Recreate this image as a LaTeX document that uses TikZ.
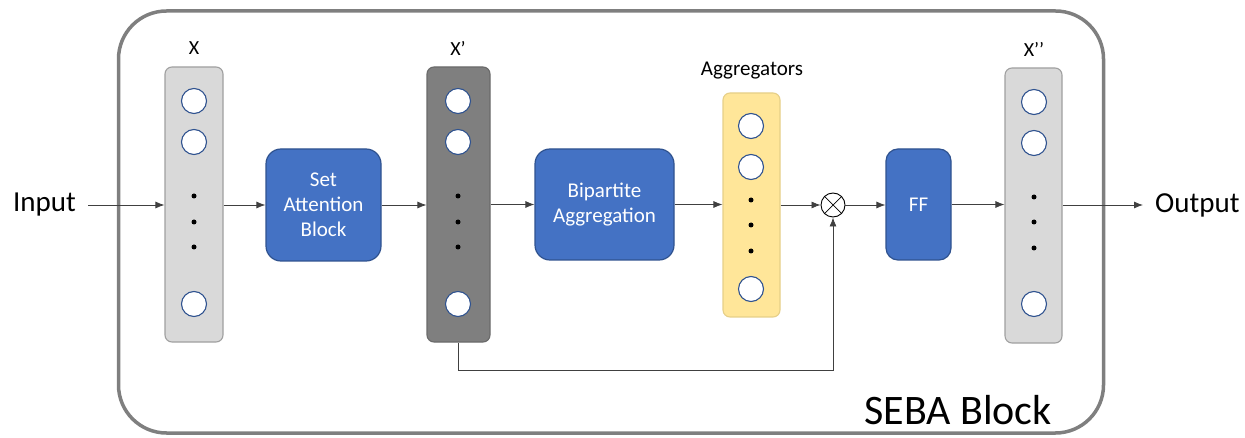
\documentclass[tikz,border=0pt]{standalone}
\usepackage{fontspec}
\setmainfont{Carlito}
\usetikzlibrary{arrows.meta,positioning,calc}

\definecolor{boxblue}{HTML}{4472C4}
\definecolor{boxedge}{HTML}{2F528F}
\definecolor{lightcol}{HTML}{D9D9D9}
\definecolor{lightedge}{HTML}{A0A0A0}
\definecolor{darkcol}{HTML}{7F7F7F}
\definecolor{darkedge}{HTML}{6A6A6A}
\definecolor{aggcol}{HTML}{FFE699}
\definecolor{aggedge}{HTML}{E6CF88}
\definecolor{frame}{HTML}{7F7F7F}
\definecolor{wire}{HTML}{404040}

\tikzset{
  opbox/.style={draw=boxedge, line width=1.2pt, fill=boxblue, rounded corners=15pt,
    text=white, font=\fontsize{21}{25}\selectfont, align=center, inner sep=0pt},
  vecbox/.style={rounded corners=7pt, line width=1.1pt, inner sep=0pt},
  unit/.style={circle, draw=boxedge, fill=white, line width=1.1pt,
    minimum width=24pt, minimum height=25pt, inner sep=0pt},
  dotmark/.style={circle, fill=black, minimum size=5pt, inner sep=0pt},
  arr/.style={draw=wire, line width=0.8pt, -{Latex[length=9pt,width=7pt]}},
  lbl/.style={font=\fontsize{20}{23}\selectfont, inner sep=0pt},
}

\begin{document}
\begin{tikzpicture}[x=1pt,y=-1pt]
\useasboundingbox (0,0) rectangle (1245,438);

% enclosing block
\node[draw=frame, line width=3.5pt, rounded corners=48pt, minimum width=985pt,
  minimum height=422pt, inner sep=0pt] (seba) at (611,222) {};
\node[font=\fontsize{42}{48}\selectfont, anchor=east, inner sep=0pt] (sebalbl) at (1052,410) {SEBA Block};

% input / output labels
\node[font=\fontsize{29}{34}\selectfont, anchor=east, inner sep=0pt] (in) at (76,205) {Input};
\node[font=\fontsize{29}{34}\selectfont, anchor=west, inner sep=0pt] (out) at (1155,205) {Output};

% X column
\node[vecbox, draw=lightedge, fill=lightcol, minimum width=58pt, minimum height=275pt] (X) at (194,204.5) {};
\node[lbl] (Xl) at (194,48) {X};
\node[unit] (x1) at (194,101) {};
\node[unit] (x2) at (194,142) {};
\node[unit] (x3) at (194,304) {};
\node[dotmark] (xd1) at (194,196) {};
\node[dotmark] (xd2) at (194,222) {};
\node[dotmark] (xd3) at (194,247) {};

% Set attention block
\node[opbox, minimum width=115pt, minimum height=112pt] (sab) at (323.5,205) {Set\\Attention\\Block};

% X' column
\node[vecbox, draw=darkedge, fill=darkcol, minimum width=63pt, minimum height=275pt] (Xp) at (458.5,204.5) {};
\node[lbl] (Xpl) at (458,48) {X’};
\node[unit] (p1) at (458,101) {};
\node[unit] (p2) at (458,142) {};
\node[unit] (p3) at (458,304) {};
\node[dotmark] (pd1) at (458,196) {};
\node[dotmark] (pd2) at (458,222) {};
\node[dotmark] (pd3) at (458,247) {};

% Bipartite aggregation
\node[opbox, minimum width=139pt, minimum height=111pt] (bpa) at (604.5,204.5) {Bipartite\\Aggregation};

% Aggregators column
\node[vecbox, draw=aggedge, fill=aggcol, minimum width=57pt, minimum height=224pt] (A) at (751.5,205) {};
\node[lbl, font=\fontsize{21}{24}\selectfont] (Al) at (752,71) {Aggregators};
\node[unit] (a1) at (751,126) {};
\node[unit] (a2) at (751,167) {};
\node[unit] (a3) at (751,289) {};
\node[dotmark] (ad1) at (751,200) {};
\node[dotmark] (ad2) at (751,225) {};
\node[dotmark] (ad3) at (751,251) {};

% product
\node[circle, draw=black, fill=white, line width=0.9pt, minimum size=24pt, inner sep=0pt] (mul) at (833,205) {};
\draw[line width=0.7pt] (mul.north west) -- (mul.south east) (mul.north east) -- (mul.south west);

% feed-forward
\node[opbox, rounded corners=12pt, minimum width=65pt, minimum height=111pt] (ff) at (918.5,204.5) {FF};

% X'' column
\node[vecbox, draw=lightedge, fill=lightcol, minimum width=57pt, minimum height=275pt] (Xpp) at (1033.5,205.5) {};
\node[lbl] (Xppl) at (1034,49) {X’’};
\node[unit] (q1) at (1034,102) {};
\node[unit] (q2) at (1034,143) {};
\node[unit] (q3) at (1034,304) {};
\node[dotmark] (qd1) at (1034,197) {};
\node[dotmark] (qd2) at (1034,222) {};
\node[dotmark] (qd3) at (1034,248) {};

% connectors
\draw[arr] ([xshift=12pt]in.east) -- (X.west|-in.east);
\draw[arr] (X.east|-sab.west) -- (sab.west);
\draw[arr] (sab.east) -- (Xp.west|-sab.east);
\draw[arr] (Xp.east|-bpa.west) -- (bpa.west);
\draw[arr] (bpa.east) -- (A.west|-bpa.east);
\draw[arr] (A.east|-mul.west) -- (mul.west);
\draw[arr] (mul.east) -- (ff.west|-mul.east);
\draw[arr] (ff.east) -- (Xpp.west|-ff.east);
\draw[arr] (Xpp.east|-out.west) -- ([xshift=-12pt]out.west);
\coordinate (skip) at (458,370);
\draw[arr] (Xp.south) -- (Xp.south|-skip) -| (mul.south);
\end{tikzpicture}
\end{document}
